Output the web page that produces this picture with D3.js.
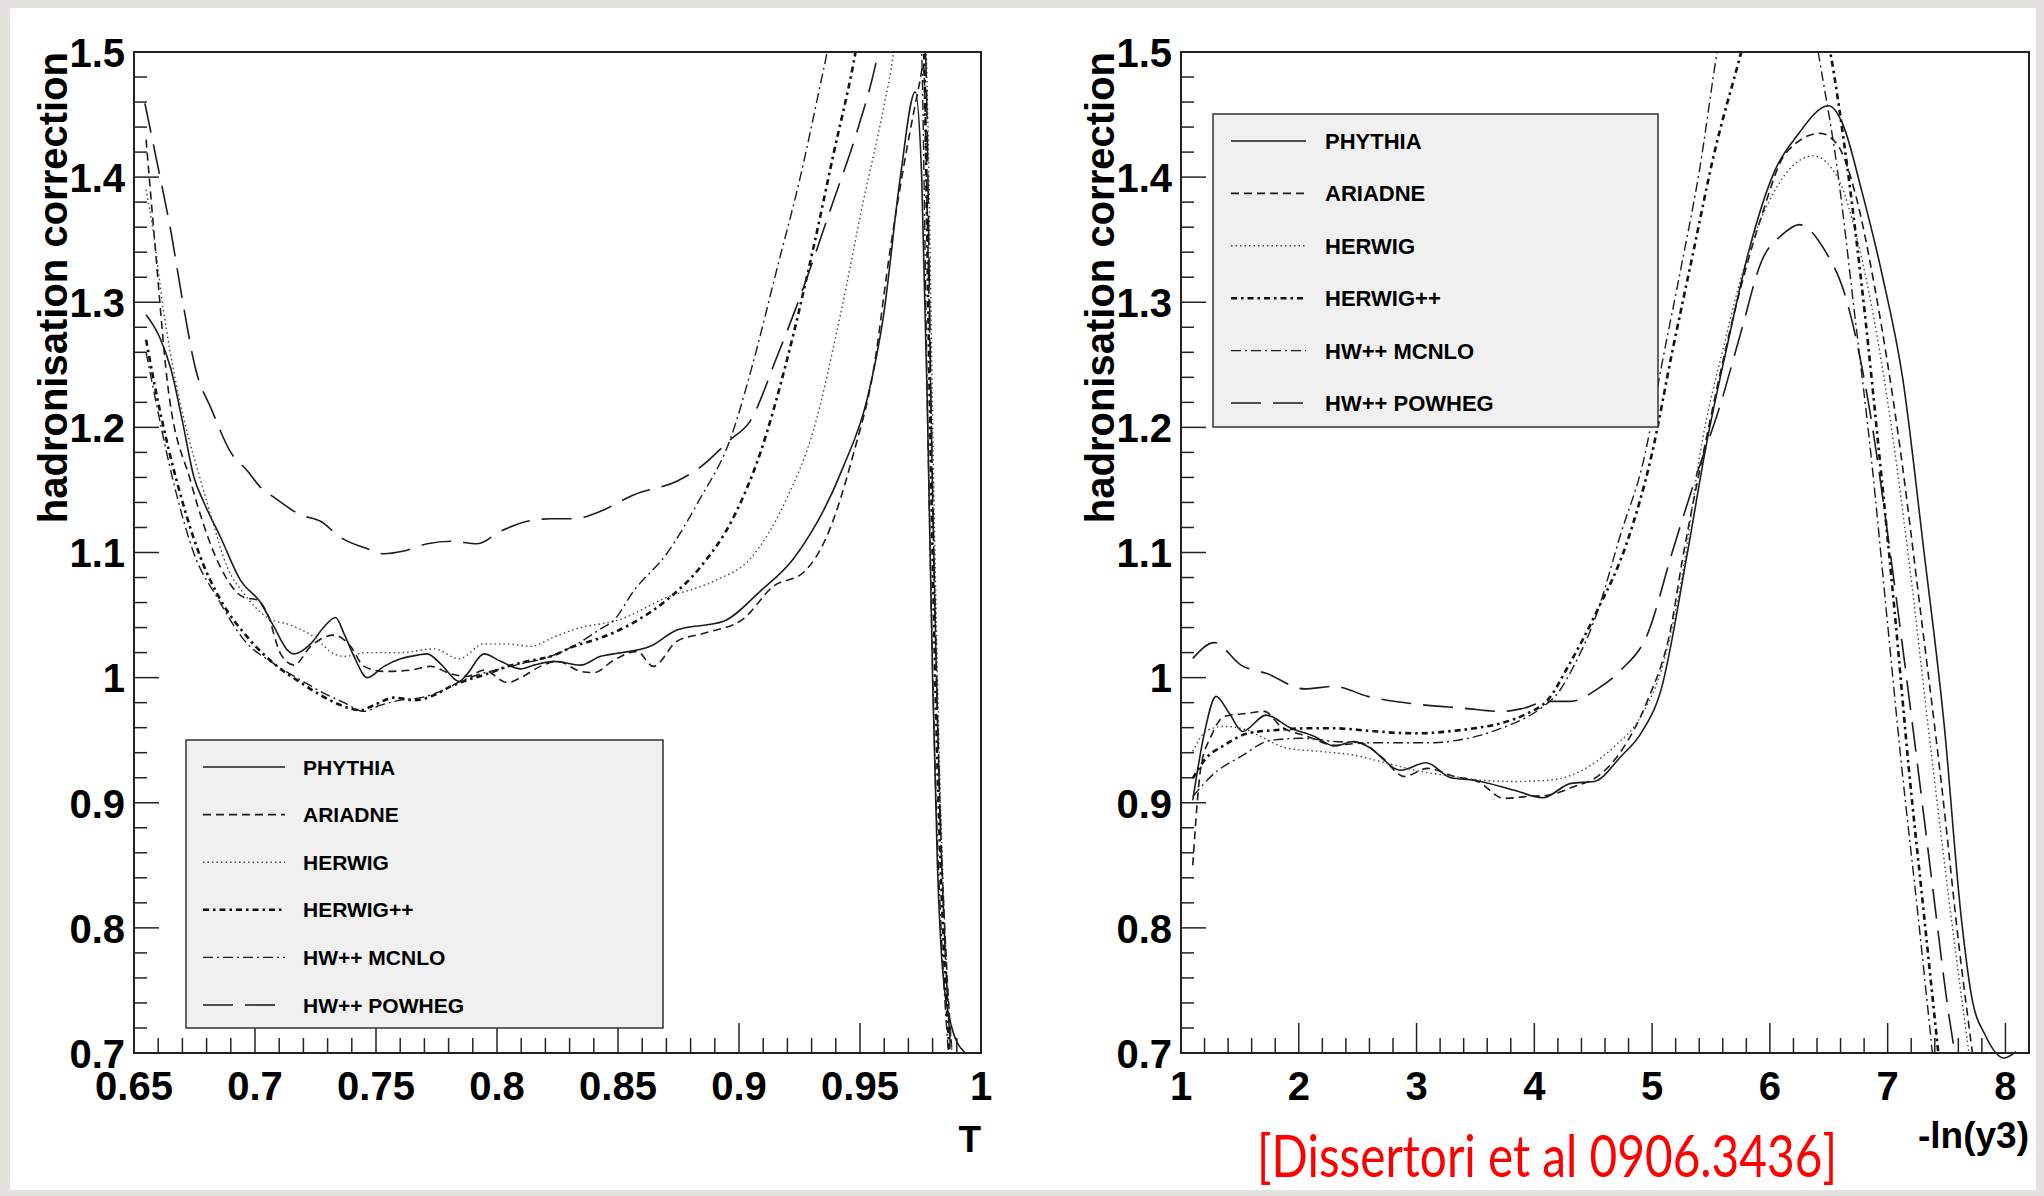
<!DOCTYPE html>
<html lang="en">
<head>
<meta charset="UTF-8">
<title>hadronisation correction</title>
<script src="https://cdn.jsdelivr.net/npm/d3@7"></script>
<style>
    body { margin: 0; background: #e4e2de; }
    svg { display: block; }
    text { font-family: "Liberation Sans", Arial, sans-serif; font-weight: bold; fill: #000; }
</style>
</head>
<body>
<script>
// legend names, same order as the arrays below
var seriesNames = ["PHYTHIA", "ARIADNE", "HERWIG", "HERWIG++", "HW++ MCNLO", "HW++ POWHEG"];

// axis ticks
var yTicks = [0.7, 0.8, 0.9, 1, 1.1, 1.2, 1.3, 1.4, 1.5];
var thrustTicks = [0.65, 0.7, 0.75, 0.8, 0.85, 0.9, 0.95, 1];
var y3Ticks = [1, 2, 3, 4, 5, 6, 7, 8];

// left panel: [T, correction]
var thrustPythia = [[0.655,1.29],[0.6606,1.272],[0.6652,1.247],[0.670,1.205],[0.6748,1.16],[0.6789,1.14],[0.6858,1.112],[0.6941,1.0775],[0.7023,1.060],[0.7079,1.0405],[0.7134,1.022],[0.7161,1.019],[0.723,1.027],[0.7285,1.0405],[0.7333,1.048],[0.7368,1.035],[0.7409,1.017],[0.7464,1.0],[0.7533,1.009],[0.7602,1.015],[0.7671,1.018],[0.7712,1.019],[0.7767,1.011],[0.7843,0.997],[0.7877,1.003],[0.7946,1.019],[0.8015,1.013],[0.8098,1.007],[0.8153,1.01],[0.8236,1.013],[0.8346,1.01],[0.8428,1.017],[0.8483,1.019],[0.8633,1.025],[0.8743,1.038],[0.8936,1.045],[0.9087,1.069],[0.9225,1.095],[0.943,1.168],[0.953,1.223],[0.9597,1.289],[0.9666,1.399],[0.9728,1.468],[0.9755,1.40],[0.978,1.2],[0.980,1.0],[0.982,0.85],[0.984,0.77],[0.988,0.72],[0.9935,0.70]];
var thrustAriadne = [[0.655,1.43],[0.6585,1.35],[0.6638,1.236],[0.6734,1.157],[0.6858,1.088],[0.6955,1.064],[0.701,1.062],[0.7051,1.051],[0.7106,1.019],[0.7161,1.01],[0.723,1.025],[0.7326,1.034],[0.7395,1.025],[0.745,1.009],[0.7533,1.005],[0.7643,1.006],[0.7726,1.009],[0.7809,1.003],[0.7877,1.001],[0.7946,1.006],[0.8043,0.996],[0.8098,1.0],[0.818,1.009],[0.8249,1.013],[0.8346,1.005],[0.8401,1.004],[0.8483,1.014],[0.8578,1.021],[0.8646,1.009],[0.8743,1.029],[0.8867,1.036],[0.9018,1.047],[0.9142,1.073],[0.9266,1.084],[0.9363,1.113],[0.9473,1.179],[0.9555,1.245],[0.9624,1.341],[0.9693,1.422],[0.9748,1.477],[0.9762,1.49],[0.978,1.35],[0.9805,1.1],[0.983,0.9],[0.9855,0.78],[0.988,0.70]];
var thrustHerwig = [[0.655,1.39],[0.6579,1.357],[0.662,1.296],[0.6674,1.235],[0.6728,1.19],[0.6769,1.162],[0.6817,1.130],[0.6886,1.088],[0.6955,1.067],[0.7051,1.048],[0.7147,1.042],[0.7244,1.0325],[0.7326,1.019],[0.7368,1.017],[0.7464,1.02],[0.7602,1.02],[0.774,1.023],[0.7843,1.015],[0.7946,1.027],[0.8043,1.027],[0.8139,1.025],[0.8236,1.0325],[0.8346,1.04],[0.8428,1.043],[0.8483,1.045],[0.8701,1.064],[0.8894,1.077],[0.9046,1.095],[0.9197,1.143],[0.9308,1.198],[0.9418,1.289],[0.9514,1.381],[0.9597,1.455],[0.9638,1.499],[0.968,1.58],[0.972,1.62],[0.976,1.58],[0.978,1.45],[0.9805,1.15],[0.983,0.92],[0.9855,0.78],[0.988,0.70]];
var thrustHerwigPP = [[0.655,1.27],[0.6583,1.236],[0.6707,1.136],[0.6775,1.096],[0.6858,1.062],[0.6968,1.0325],[0.7092,1.009],[0.7189,0.996],[0.7271,0.986],[0.7354,0.978],[0.7437,0.974],[0.7492,0.978],[0.7574,0.984],[0.7657,0.982],[0.774,0.986],[0.7809,0.993],[0.7877,0.998],[0.796,1.003],[0.8043,1.009],[0.8125,1.013],[0.8222,1.017],[0.8318,1.025],[0.8401,1.03],[0.8483,1.036],[0.8564,1.044],[0.8701,1.062],[0.8839,1.088],[0.8977,1.128],[0.9087,1.179],[0.9197,1.253],[0.9308,1.344],[0.939,1.418],[0.9473,1.491],[0.955,1.58],[0.965,1.7],[0.972,1.7],[0.9765,1.5],[0.979,1.2],[0.982,0.93],[0.9845,0.79],[0.987,0.70]];
var thrustMcnlo = [[0.655,1.26],[0.6679,1.144],[0.6748,1.099],[0.6844,1.064],[0.6955,1.03],[0.7079,1.011],[0.7189,0.998],[0.7271,0.989],[0.7368,0.98],[0.745,0.973],[0.7519,0.978],[0.7602,0.982],[0.7685,0.984],[0.7767,0.989],[0.785,0.997],[0.7933,1.003],[0.8015,1.007],[0.8098,1.011],[0.8222,1.017],[0.8332,1.027],[0.8428,1.039],[0.8483,1.046],[0.8564,1.069],[0.8701,1.099],[0.8839,1.143],[0.8963,1.19],[0.906,1.253],[0.9156,1.326],[0.9252,1.399],[0.9335,1.473],[0.9363,1.499],[0.945,1.62],[0.96,1.75],[0.97,1.7],[0.9755,1.5],[0.978,1.2],[0.981,0.93],[0.984,0.78],[0.9865,0.70]];
var thrustPowheg = [[0.6545,1.459],[0.6594,1.413],[0.6652,1.357],[0.670,1.302],[0.6754,1.247],[0.6821,1.214],[0.69,1.18],[0.697,1.165],[0.7023,1.152],[0.7079,1.144],[0.7189,1.13],[0.7271,1.125],[0.7354,1.112],[0.7464,1.103],[0.7533,1.099],[0.761,1.101],[0.7712,1.107],[0.7809,1.109],[0.7919,1.107],[0.8015,1.117],[0.8125,1.125],[0.8222,1.127],[0.8318,1.127],[0.8428,1.133],[0.8564,1.146],[0.8743,1.157],[0.8839,1.168],[0.8963,1.19],[0.9046,1.205],[0.9156,1.256],[0.9252,1.304],[0.939,1.381],[0.9487,1.436],[0.957,1.495],[0.963,1.56],[0.970,1.6],[0.977,1.5],[0.9795,1.2],[0.9825,0.93],[0.985,0.79],[0.9875,0.70]];

// right panel: [-ln(y3), correction]
var y3Pythia = [[1.1,0.902],[1.198,0.9555],[1.297,0.985],[1.41,0.9715],[1.523,0.957],[1.722,0.970],[1.934,0.9595],[2.132,0.953],[2.302,0.9454],[2.471,0.949],[2.585,0.945],[2.868,0.926],[3.08,0.932],[3.292,0.92],[3.49,0.918],[3.83,0.910],[4.07,0.904],[4.311,0.9155],[4.509,0.917],[4.735,0.937],[4.905,0.9555],[5.075,0.99],[5.3,1.1],[5.462,1.187],[5.637,1.265],[5.813,1.338],[6.046,1.406],[6.222,1.432],[6.5,1.457],[6.62,1.442],[6.777,1.39],[6.953,1.322],[7.128,1.239],[7.304,1.104],[7.479,0.963],[7.625,0.808],[7.713,0.745],[7.83,0.714],[7.99,0.696],[8.09,0.701]];
var y3Ariadne = [[1.1,0.85],[1.17,0.929],[1.255,0.953],[1.368,0.969],[1.566,0.9715],[1.707,0.973],[1.849,0.961],[2.075,0.953],[2.302,0.946],[2.528,0.9475],[2.698,0.937],[2.896,0.921],[3.094,0.9275],[3.32,0.921],[3.518,0.917],[3.745,0.9035],[3.943,0.905],[4.113,0.906],[4.339,0.913],[4.537,0.921],[4.763,0.945],[4.962,0.982],[5.16,1.04],[5.257,1.094],[5.462,1.192],[5.696,1.291],[5.93,1.369],[6.134,1.419],[6.427,1.435],[6.573,1.426],[6.73,1.385],[6.89,1.312],[7.1,1.187],[7.28,1.052],[7.46,0.912],[7.61,0.782],[7.72,0.70]];
var y3Herwig = [[1.1,0.941],[1.226,0.958],[1.368,0.961],[1.566,0.958],[1.736,0.950],[1.905,0.9435],[2.188,0.941],[2.471,0.938],[2.754,0.9315],[3.037,0.925],[3.32,0.921],[3.547,0.918],[3.83,0.917],[4.113,0.918],[4.282,0.921],[4.48,0.930],[4.679,0.945],[4.905,0.969],[5.103,1.014],[5.27,1.09],[5.403,1.177],[5.608,1.265],[5.813,1.338],[6.046,1.39],[6.368,1.417],[6.573,1.40],[6.76,1.343],[6.97,1.239],[7.18,1.094],[7.36,0.948],[7.54,0.808],[7.69,0.70]];
var y3HerwigPP = [[1.1,0.9195],[1.212,0.9355],[1.368,0.946],[1.566,0.9555],[1.792,0.958],[2.075,0.9595],[2.302,0.9595],[2.585,0.9576],[2.811,0.956],[3.037,0.9555],[3.264,0.957],[3.49,0.9595],[3.716,0.9635],[3.943,0.9715],[4.113,0.982],[4.293,1.01],[4.526,1.052],[4.79,1.109],[4.994,1.177],[5.17,1.26],[5.345,1.338],[5.52,1.416],[5.754,1.499],[5.95,1.57],[6.15,1.59],[6.35,1.56],[6.514,1.499],[6.66,1.406],[6.806,1.291],[6.93,1.177],[7.06,1.052],[7.18,0.927],[7.3,0.818],[7.43,0.70]];
var y3Mcnlo = [[1.1,0.905],[1.283,0.9235],[1.509,0.937],[1.764,0.950],[2.019,0.9515],[2.302,0.949],[2.585,0.948],[2.868,0.948],[3.151,0.948],[3.349,0.950],[3.547,0.954],[3.716,0.9595],[3.886,0.966],[4.056,0.9755],[4.198,0.9875],[4.339,1.01],[4.526,1.05],[4.731,1.114],[4.936,1.177],[5.082,1.25],[5.257,1.333],[5.403,1.406],[5.55,1.499],[5.8,1.62],[6.0,1.66],[6.2,1.62],[6.412,1.499],[6.573,1.406],[6.719,1.291],[6.865,1.172],[6.99,1.052],[7.11,0.937],[7.26,0.808],[7.38,0.70]];
var y3Powheg = [[1.1,1.0154],[1.283,1.028],[1.509,1.010],[1.736,1.003],[2.047,0.991],[2.302,0.993],[2.585,0.985],[2.981,0.979],[3.405,0.9755],[3.716,0.973],[3.886,0.975],[4.113,0.981],[4.311,0.981],[4.537,0.991],[4.735,1.006],[4.962,1.035],[5.17,1.1],[5.374,1.161],[5.579,1.218],[5.754,1.276],[5.93,1.333],[6.105,1.354],[6.251,1.362],[6.456,1.343],[6.65,1.302],[6.84,1.218],[7.03,1.094],[7.21,0.963],[7.38,0.834],[7.52,0.73],[7.57,0.70]];

var width = 2044, height = 1196;

// line styles in legend order
var styles = [
    { dash: null,          w: 1.6, color: "#1c1c1c" },
    { dash: "8,5",         w: 1.6, color: "#1c1c1c" },
    { dash: "1.5,3",       w: 1.4, color: "#444" },
    { dash: "6,4,2.5,4",   w: 2.6, color: "#111" },
    { dash: "10,4,2,4",    w: 1.4, color: "#1c1c1c" },
    { dash: "30,12",       w: 1.6, color: "#1c1c1c" }
];

var svg = d3.select("body").append("svg")
    .attr("width", width)
    .attr("height", height);

// white sheet on the grey slide
svg.append("rect")
    .attr("x", 10).attr("y", 8)
    .attr("width", 2026).attr("height", 1182)
    .attr("fill", "#fff");

function ticksBetween(d0, d1, step) {
    var n = Math.round((d1 - d0) / step);
    return d3.range(n + 1).map(function (i) { return +(d0 + i * step).toFixed(6); });
}

function drawPanel(p) {
    var x = d3.scaleLinear().domain(p.xDomain).range([p.x0, p.x1]);
    var y = d3.scaleLinear().domain([0.7, 1.5]).range([1053, 52]);
    var g = svg.append("g");

    g.append("clipPath").attr("id", p.id)
        .append("rect")
        .attr("x", p.x0).attr("y", 52)
        .attr("width", p.x1 - p.x0).attr("height", 1053 - 52 + 8);

    // y ticks (major + minor), drawn inward
    ticksBetween(0.7, 1.5, 0.02).forEach(function (v) {
        var major = Math.abs(v * 10 - Math.round(v * 10)) < 1e-6;
        g.append("line")
            .attr("x1", p.x0).attr("x2", p.x0 + (major ? 25 : 13))
            .attr("y1", y(v)).attr("y2", y(v))
            .attr("stroke", "#222").attr("stroke-width", 1.5);
    });
    // x ticks
    ticksBetween(p.xDomain[0], p.xTicks[p.xTicks.length - 1], p.minorStep).forEach(function (v) {
        var major = p.xTicks.some(function (t) { return Math.abs(t - v) < 1e-6; });
        g.append("line")
            .attr("x1", x(v)).attr("x2", x(v))
            .attr("y1", 1053).attr("y2", 1053 - (major ? 30 : 15))
            .attr("stroke", "#222").attr("stroke-width", 1.5);
    });

    // curves
    var line = d3.line()
        .x(function (d) { return x(d[0]); })
        .y(function (d) { return y(d[1]); })
        .curve(d3.curveMonotoneX);

    var curves = g.append("g").attr("clip-path", "url(#" + p.id + ")");
    p.series.forEach(function (s, i) {
        curves.append("path")
            .attr("d", line(s))
            .attr("fill", "none")
            .attr("stroke", styles[i].color)
            .attr("stroke-width", styles[i].w)
            .attr("stroke-dasharray", styles[i].dash);
    });

    // legend box
    var L = p.legend;
    g.append("rect")
        .attr("x", L.x).attr("y", L.y)
        .attr("width", L.w).attr("height", L.h)
        .attr("fill", "#f0f0f0")
        .attr("stroke", "#333").attr("stroke-width", 1.5);
    seriesNames.forEach(function (name, i) {
        var ry = L.y + L.first + i * L.gap;
        g.append("line")
            .attr("x1", L.x + L.l0).attr("x2", L.x + L.l1)
            .attr("y1", ry).attr("y2", ry)
            .attr("stroke", styles[i].color)
            .attr("stroke-width", styles[i].w)
            .attr("stroke-dasharray", styles[i].dash);
        g.append("text")
            .attr("x", L.x + L.tx).attr("y", ry)
            .attr("dy", "0.36em")
            .style("font-size", L.fs + "px")
            .text(name);
    });

    // frame
    g.append("rect")
        .attr("x", p.x0).attr("y", 52)
        .attr("width", p.x1 - p.x0).attr("height", 1053 - 52)
        .attr("fill", "none")
        .attr("stroke", "#222").attr("stroke-width", 2);

    // tick labels
    yTicks.forEach(function (v) {
        g.append("text")
            .attr("x", p.x0 - 9).attr("y", y(v))
            .attr("dy", "0.37em")
            .attr("text-anchor", "end")
            .style("font-size", "40px")
            .text(v);
    });
    p.xTicks.forEach(function (v) {
        g.append("text")
            .attr("x", x(v)).attr("y", 1100)
            .attr("text-anchor", "middle")
            .style("font-size", "40px")
            .text(v);
    });

    // axis titles
    g.append("text")
        .attr("transform", "translate(" + (p.x0 - 67) + ",52) rotate(-90)")
        .attr("text-anchor", "end")
        .style("font-size", "40px")
        .text("hadronisation correction");
    g.append("text")
        .attr("x", p.x1).attr("y", p.titleY)
        .attr("text-anchor", "end")
        .style("font-size", "37px")
        .text(p.xTitle);
}

drawPanel({
    id: "clipT", x0: 134, x1: 981,
    xDomain: [0.65, 1], xTicks: thrustTicks, minorStep: 0.01,
    series: [thrustPythia, thrustAriadne, thrustHerwig, thrustHerwigPP, thrustMcnlo, thrustPowheg],
    legend: { x: 186, y: 740, w: 477, h: 288, first: 27, gap: 47.6, l0: 17, l1: 99, tx: 117, fs: 21 },
    xTitle: "T", titleY: 1152
});

drawPanel({
    id: "clipY3", x0: 1181, x1: 2029,
    xDomain: [1, 8.2], xTicks: y3Ticks, minorStep: 0.2,
    series: [y3Pythia, y3Ariadne, y3Herwig, y3HerwigPP, y3Mcnlo, y3Powheg],
    legend: { x: 1213, y: 114, w: 445, h: 313, first: 27, gap: 52.4, l0: 18, l1: 93, tx: 112, fs: 22 },
    xTitle: "-ln(y3)", titleY: 1148
});

// citation
svg.append("text")
    .attr("x", 1257).attr("y", 1177)
    .attr("textLength", 580)
    .attr("lengthAdjust", "spacingAndGlyphs")
    .style("font-family", "Lato, 'Open Sans', sans-serif")
    .style("font-weight", "normal")
    .style("font-size", "58px")
    .style("fill", "#ff0000")
    .text("[Dissertori et al 0906.3436]");
</script>
</body>
</html>
